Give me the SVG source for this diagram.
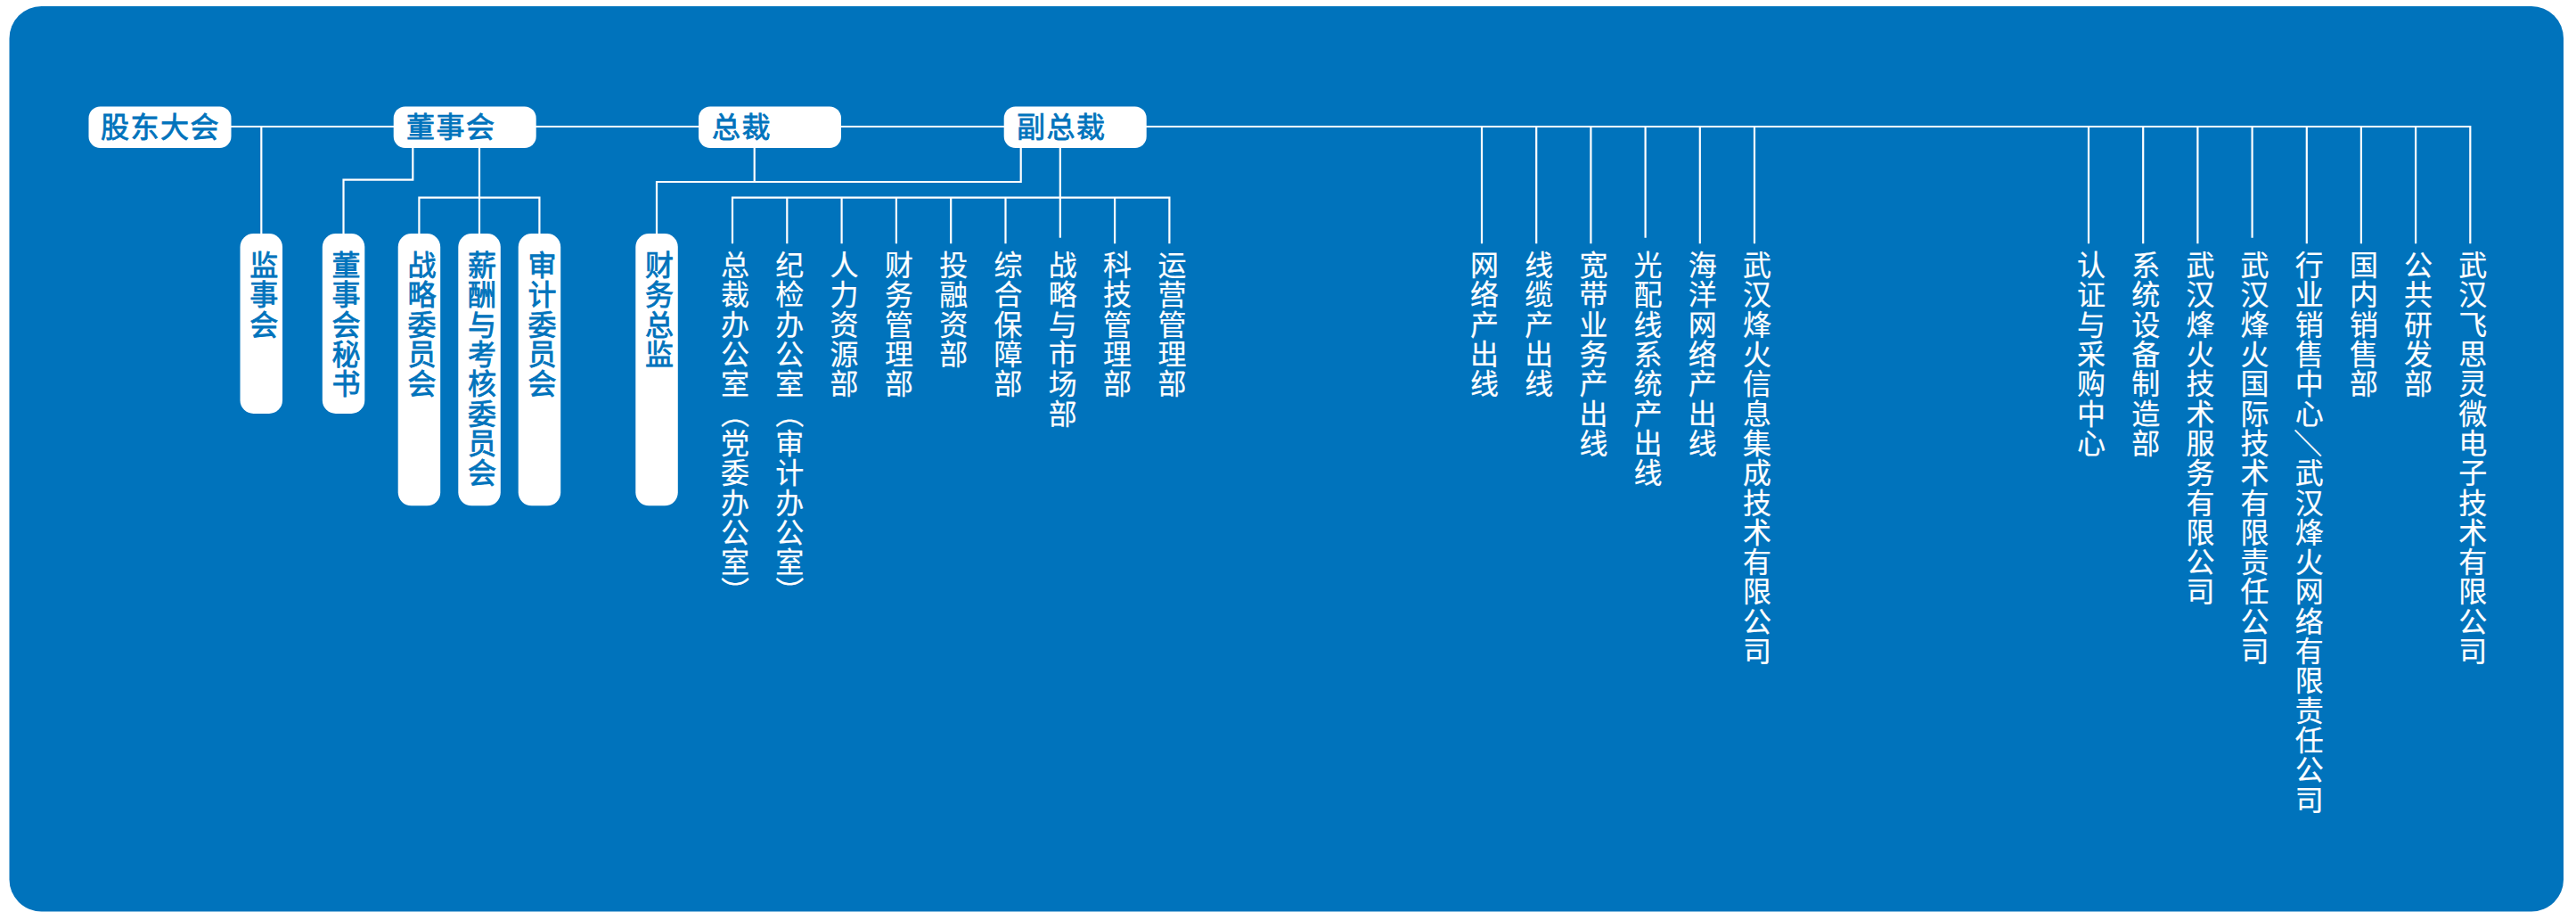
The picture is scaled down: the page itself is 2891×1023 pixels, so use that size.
<svg xmlns="http://www.w3.org/2000/svg" width="2891" height="1023" viewBox="0 0 2891 1023">
<style>
.bg{fill:#0073bc}
.box{fill:#ffffff}
.conn path{fill:none;stroke:#ffffff;stroke-width:2.2}
text{font-family:"Liberation Sans","Noto Sans CJK SC",sans-serif;font-size:32px}
.hl{fill:#0073bc;stroke:#0073bc;stroke-width:0.8;letter-spacing:1.5px;dominant-baseline:central}
.vb{fill:#0073bc;stroke:#0073bc;stroke-width:0.8;writing-mode:vertical-rl;letter-spacing:1.3px}
.vw{fill:#ffffff;stroke:#ffffff;stroke-width:0.2;writing-mode:vertical-rl;letter-spacing:1.3px}
.side{text-orientation:sideways}
</style>
<rect class="bg" x="10.5" y="7" width="2866.5" height="1015.5" rx="36"/>
<g class="conn">
<path d="M259,142 H2772.3 V273.3"/>
<path d="M293.3,142 V262"/>
<path d="M463.3,166 V201.7 H385.5 V262"/>
<path d="M538,166 V262"/>
<path d="M470.4,262 V221.7 H605.4 V262"/>
<path d="M846.7,166 V204"/>
<path d="M1145.7,166 V204 H737 V262"/>
<path d="M1189.8,166 V266.7"/>
<path d="M822,273.3 V221.7 H1312.4 V273.3"/>
<path d="M883.3,221.7 V273.3 M944.6,221.7 V273.3 M1005.9,221.7 V273.3 M1067.2,221.7 V273.3 M1128.5,221.7 V273.3 M1251.1,221.7 V273.3"/>
<path d="M1663,142 V273.3 M1724.2,142 V273.3 M1785.4,142 V273.3 M1846.6,142 V266.7 M1907.8,142 V273.3 M1969,142 V273.3"/>
<path d="M2344,142 V273.3 M2405.2,142 V273.3 M2466.4,142 V273.3 M2527.6,142 V266.7 M2588.8,142 V273.3 M2649.9,142 V273.3 M2711.1,142 V273.3"/>
</g>
<g id="n-gudong"><rect class="box" x="99.5" y="119.5" width="160" height="46.5" rx="13"/><text class="hl" x="113" y="142.5">股东大会</text></g>
<g id="n-dongshihui"><rect class="box" x="441.7" y="119.5" width="160" height="46.5" rx="13"/><text class="hl" x="456" y="142.5">董事会</text></g>
<g id="n-zongcai"><rect class="box" x="784" y="119.5" width="160" height="46.5" rx="13"/><text class="hl" x="799" y="142.5">总裁</text></g>
<g id="n-fuzongcai"><rect class="box" x="1126.7" y="119.5" width="160" height="46.5" rx="13"/><text class="hl" x="1141" y="142.5">副总裁</text></g>
<g id="n-jianshihui"><rect class="box" x="269.5" y="262" width="47.5" height="202" rx="15"/><text class="vb" x="293.3" y="281">监事会</text></g>
<g id="n-mishu"><rect class="box" x="361.8" y="262" width="47.5" height="202" rx="15"/><text class="vb" x="385.5" y="281">董事会秘书</text></g>
<g id="n-zhanlue"><rect class="box" x="446.7" y="262" width="47.5" height="305.3" rx="15"/><text class="vb" x="470.4" y="281">战略委员会</text></g>
<g id="n-xinchou"><rect class="box" x="514.3" y="262" width="47.5" height="305.3" rx="15"/><text class="vb" x="538" y="281">薪酬与考核委员会</text></g>
<g id="n-shenji"><rect class="box" x="581.7" y="262" width="47.5" height="305.3" rx="15"/><text class="vb" x="605.4" y="281">审计委员会</text></g>
<g id="n-caiwuzongjian"><rect class="box" x="713.3" y="262" width="47.5" height="305.3" rx="15"/><text class="vb" x="737" y="281">财务总监</text></g>
<g id="n-d1"><text class="vw" x="822" y="281">总裁办公室（党委办公室）</text></g>
<g id="n-d2"><text class="vw" x="883.3" y="281">纪检办公室（审计办公室）</text></g>
<g id="n-d3"><text class="vw" x="944.6" y="281">人力资源部</text></g>
<g id="n-d4"><text class="vw" x="1005.9" y="281">财务管理部</text></g>
<g id="n-d5"><text class="vw" x="1067.2" y="281">投融资部</text></g>
<g id="n-d6"><text class="vw" x="1128.5" y="281">综合保障部</text></g>
<g id="n-d7"><text class="vw" x="1189.8" y="281">战略与市场部</text></g>
<g id="n-d8"><text class="vw" x="1251.1" y="281">科技管理部</text></g>
<g id="n-d9"><text class="vw" x="1312.4" y="281">运营管理部</text></g>
<g id="n-p1"><text class="vw" x="1663" y="281">网络产出线</text></g>
<g id="n-p2"><text class="vw" x="1724.2" y="281">线缆产出线</text></g>
<g id="n-p3"><text class="vw" x="1785.4" y="281">宽带业务产出线</text></g>
<g id="n-p4"><text class="vw" x="1846.6" y="281">光配线系统产出线</text></g>
<g id="n-p5"><text class="vw" x="1907.8" y="281">海洋网络产出线</text></g>
<g id="n-p6"><text class="vw" x="1969" y="281">武汉烽火信息集成技术有限公司</text></g>
<g id="n-s1"><text class="vw" x="2344" y="281">认证与采购中心</text></g>
<g id="n-s2"><text class="vw" x="2405.2" y="281">系统设备制造部</text></g>
<g id="n-s3"><text class="vw" x="2466.4" y="281">武汉烽火技术服务有限公司</text></g>
<g id="n-s4"><text class="vw" x="2527.6" y="281">武汉烽火国际技术有限责任公司</text></g>
<g id="n-s5"><text class="vw" x="2588.8" y="281">行业销售中心<tspan class="side">／</tspan>武汉烽火网络有限责任公司</text></g>
<g id="n-s6"><text class="vw" x="2649.9" y="281">国内销售部</text></g>
<g id="n-s7"><text class="vw" x="2711.1" y="281">公共研发部</text></g>
<g id="n-s8"><text class="vw" x="2772.3" y="281">武汉飞思灵微电子技术有限公司</text></g>
</svg>
